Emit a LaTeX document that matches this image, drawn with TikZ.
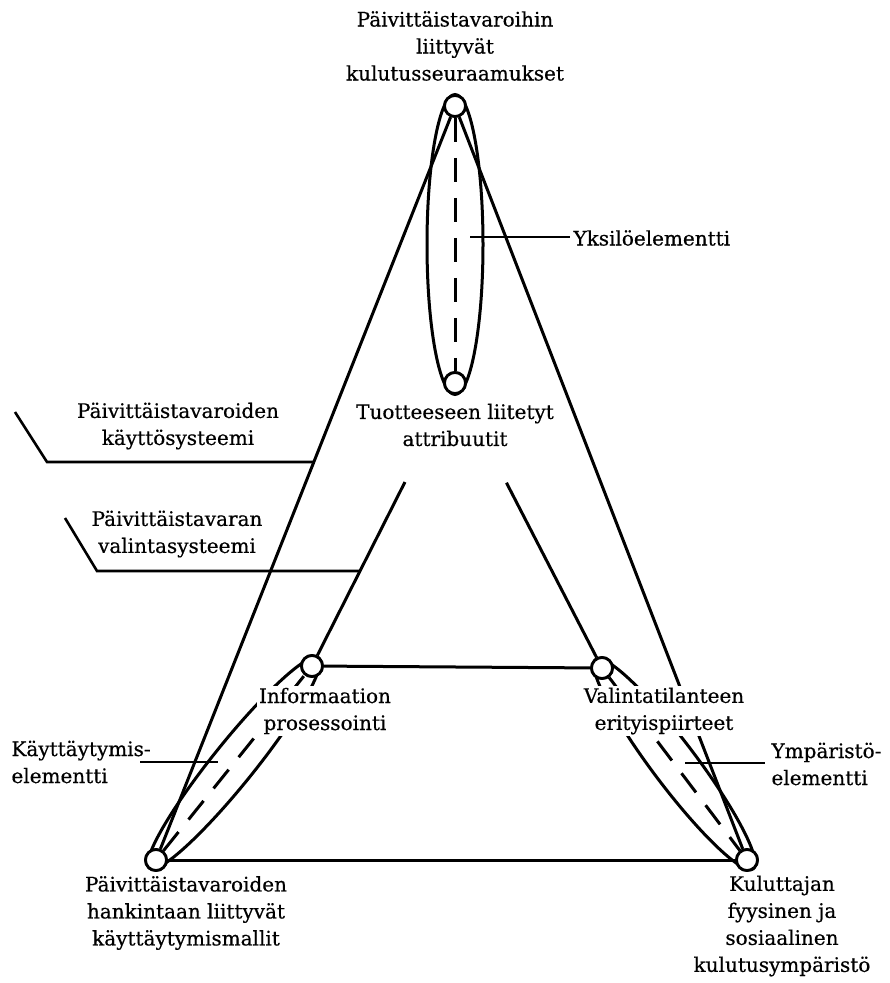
\documentclass[tikz,border=0pt]{standalone}
\usepackage{fontspec}
\setmainfont{DejaVu Serif}[FakeBold=0.5]
\usetikzlibrary{calc}
\begin{document}
\begin{tikzpicture}[x=1pt,y=-1pt,line width=3pt,
  dot/.style={circle,draw,fill=white,minimum size=21pt,inner sep=0pt,line width=2.8pt},
  lbl/.style={align=center,font=\fontsize{20}{27}\selectfont,inner sep=2pt},
  mask/.style={fill=white},
  dash line/.style={dash pattern=on 24pt off 16pt},
  leader/.style={line width=2.6pt}]
\useasboundingbox (0,0) rectangle (890,983);

% element nodes
\node[dot] (T)  at (455,106) {};
\node[dot] (M)  at (455,383) {};
\node[dot] (I)  at (312,666) {};
\node[dot] (V)  at (602,668) {};
\node[dot] (BL) at (156,860) {};
\node[dot] (BR) at (747,860) {};

% ellipses of the three elements
\coordinate (cT) at ($(T)!0.5!(M)$);
\coordinate (cL) at ($(BL)!0.5!(I)$);
\coordinate (cR) at ($(V)!0.5!(BR)$);
\draw (cT) ellipse [x radius=28pt, y radius=150pt];
\draw[rotate around={51.2:(cL)}] (cL) ellipse [x radius=135pt, y radius=21pt];
\draw[rotate around={-53:(cR)}] (cR) ellipse [x radius=131pt, y radius=22pt];

% dashed axes
\draw[dash line] (T) -- (M);
\draw[dash line] (BL) -- (I);
\draw[dash line] (V) -- (BR);

% outer and inner triangles
\draw (T) -- (BL);
\draw (T) -- (BR);
\draw (BL) -- (BR);
\draw (I) -- (V);
\draw ($(M)!0.35!(I)$) -- (I);
\draw ($(M)!0.35!(V)$) -- (V);

% leaders
\coordinate (kA) at (15,412);
\coordinate (kB) at (47,462);
\coordinate (kC) at (intersection of T--BL and 0,462--100,462);
\draw[leader] (kA) -- (kB) -- (kC);
\coordinate (vA) at (65,518);
\coordinate (vB) at (97,571);
\coordinate (vC) at (intersection of M--I and 0,571--100,571);
\draw[leader] (vA) -- (vB) -- (vC);
\coordinate (yA) at (470,237);
\coordinate (yB) at (570,237);
\draw[leader] (yA) -- (yB);
\coordinate (bA) at (140,762);
\coordinate (bB) at (218,762);
\draw[leader] (bA) -- (bB);
\coordinate (rA) at (685,763);
\coordinate (rB) at (765,763);
\draw[leader] (rA) -- (rB);

% redraw circles above the lines
\foreach \n in {T,M,I,V,BL,BR}
  \node[dot] at (\n) {};

% labels
\node[lbl] (tT) at (455,46) {Päivittäistavaroihin\\liittyvät\\kulutusseuraamukset};
\node[lbl] (tM) at (455,425) {Tuotteeseen liitetyt\\attribuutit};
\node[lbl,mask] (tI) at (325,711) {Informaation\\prosessointi};
\node[lbl,mask] (tV) at (664,711) {Valintatilanteen\\erityispiirteet};
\node[lbl] (tBL) at (186,913) {Päivittäistavaroiden\\hankintaan liittyvät\\käyttäytymismallit};
\node[lbl] (tBR) at (782,926) {Kuluttajan\\fyysinen ja\\sosiaalinen\\kulutusympäristö};
\node[lbl] (tK) at (178,426) {Päivittäistavaroiden\\käyttösysteemi};
\node[lbl] (tS) at (177,534) {Päivittäistavaran\\valintasysteemi};
\node[lbl,align=left,anchor=west] (tB) at (8,762) {Käyttäytymis-\\elementti};
\node[lbl,align=left,anchor=west] (tR) at (768,764) {Ympäristö-\\elementti};
\node[lbl,anchor=west] (tY) at (570,238) {Yksilöelementti};
\end{tikzpicture}
\end{document}
